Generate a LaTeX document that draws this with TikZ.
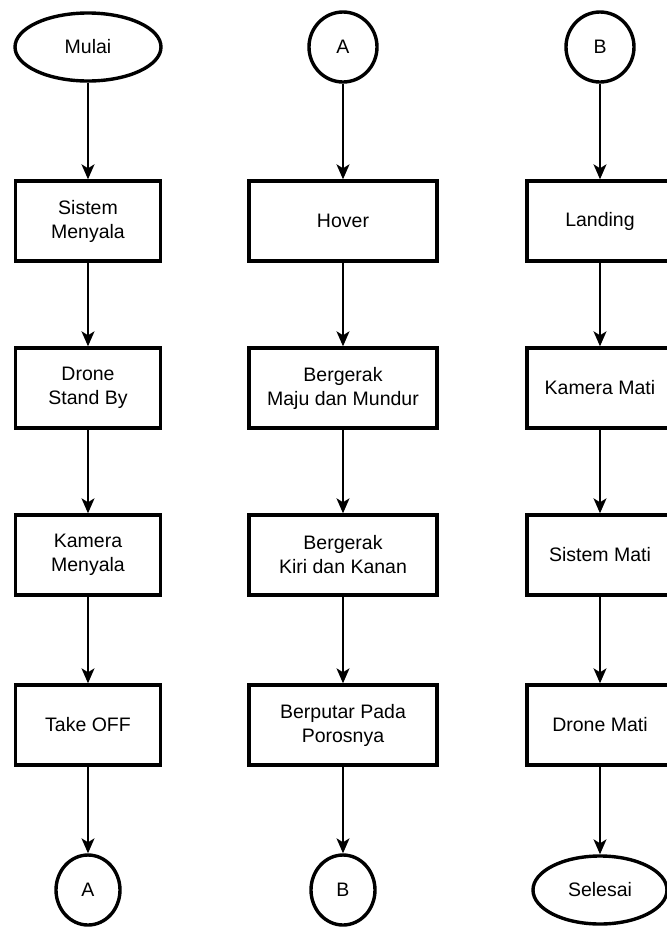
\documentclass[tikz,border=0pt]{standalone}
\usepackage{fontspec}
\setmainfont{Liberation Sans}
\usetikzlibrary{arrows.meta,shapes.geometric}
\begin{document}
\begin{tikzpicture}[x=1pt,y=-1pt,
  every node/.style={font=\fontsize{19.5}{24}\selectfont, align=center, inner sep=0pt},
  proc/.style={draw, line width=3.4pt, rectangle, minimum height=80pt},
  term/.style={draw, line width=3.4pt, ellipse},
  conn/.style={draw, line width=3.4pt, ellipse},
  flow/.style={line width=1.5pt, -{Stealth[length=15pt,width=13pt,inset=4pt]}}]
\clip (0,0) rectangle (667,930);
\fill[white] (0,0) rectangle (667,930);

% column 1
\node[term, minimum width=146pt, minimum height=68pt] (mulai) at (88,47) {Mulai};
\node[proc, minimum width=145pt] (sis)  at (88,221) {Sistem\\Menyala};
\node[proc, minimum width=145pt] (dsb)  at (88,388) {Drone\\Stand By};
\node[proc, minimum width=145pt] (kam)  at (88,555) {Kamera\\Menyala};
\node[proc, minimum width=145pt] (take) at (88,725) {Take OFF};
\node[conn, minimum width=64pt, minimum height=70pt] (a2) at (88,890) {A};

% column 2
\node[conn, minimum width=68pt, minimum height=70pt] (a1) at (343,47) {A};
\node[proc, minimum width=188pt] (hov) at (343,221) {Hover};
\node[proc, minimum width=188pt] (mm)  at (343,388) {Bergerak\\Maju dan Mundur};
\node[proc, minimum width=188pt] (kk)  at (343,555) {Bergerak\\Kiri dan Kanan};
\node[proc, minimum width=188pt] (put) at (343,725) {Berputar Pada\\Porosnya};
\node[conn, minimum width=64pt, minimum height=70pt] (b2) at (343,890) {B};

% column 3
\node[conn, minimum width=68pt, minimum height=70pt] (b1) at (600,47) {B};
\node[proc, minimum width=146pt] (land) at (600,221) {Landing};
\node[proc, minimum width=146pt] (kmat) at (600,388) {Kamera Mati};
\node[proc, minimum width=146pt] (smat) at (600,555) {Sistem Mati};
\node[proc, minimum width=146pt] (dmat) at (600,725) {Drone Mati};
\node[term, minimum width=134pt, minimum height=68pt] (sel) at (600,890) {Selesai};

% connectors
\draw[flow] (mulai) -- (sis);
\draw[flow] (sis) -- (dsb);
\draw[flow] (dsb) -- (kam);
\draw[flow] (kam) -- (take);
\draw[flow] (take) -- (a2);

\draw[flow] (a1) -- (hov);
\draw[flow] (hov) -- (mm);
\draw[flow] (mm) -- (kk);
\draw[flow] (kk) -- (put);
\draw[flow] (put) -- (b2);

\draw[flow] (b1) -- (land);
\draw[flow] (land) -- (kmat);
\draw[flow] (kmat) -- (smat);
\draw[flow] (smat) -- (dmat);
\draw[flow] (dmat) -- (sel);
\end{tikzpicture}
\end{document}
